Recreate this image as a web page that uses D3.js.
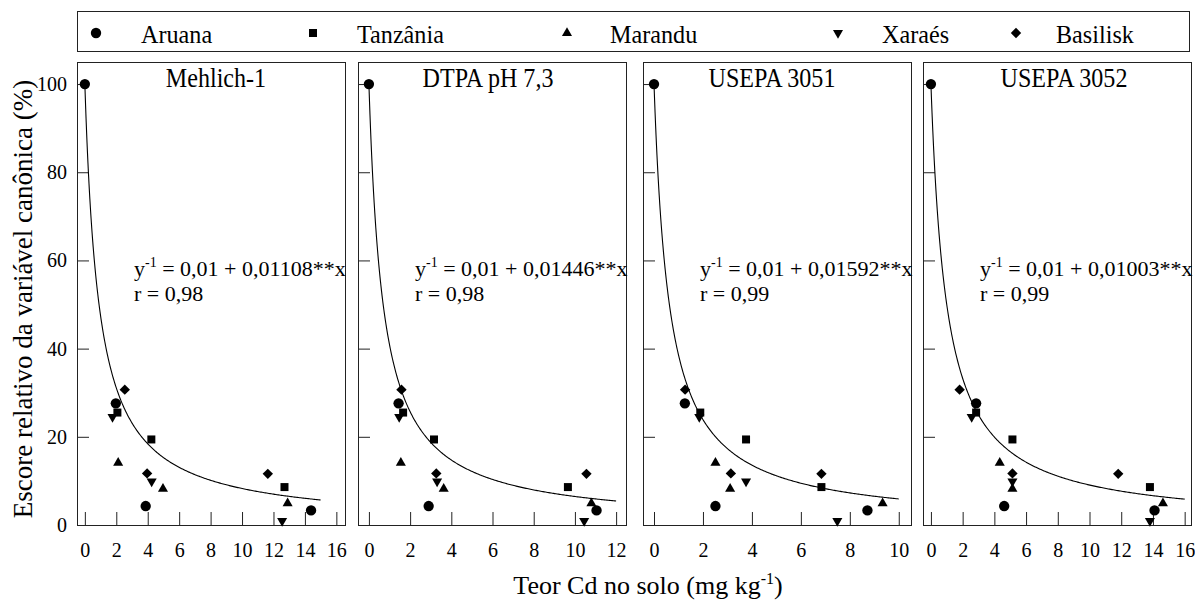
<!DOCTYPE html>
<html lang="pt">
<head>
  <meta charset="UTF-8">
  <title>Escore relativo x teor de Cd</title>
  <style>
    body { margin: 0; background: #fff; }
    svg text { font-family: "Liberation Serif", "Times New Roman", serif; fill: #000; }
  </style>
</head>
<body>
  <svg id="svg" width="1195" height="601" font-family="'Liberation Serif', serif"></svg>
  <script src="https://d3js.org/d3.v7.min.js"></script>
  <script>
    // data
    const cultivars = ['Aruana', 'Tanzânia', 'Marandu', 'Xaraés', 'Basilisk']
    const methods = ['Mehlich-1', 'DTPA pH 7,3', 'USEPA 3051', 'USEPA 3052']
    const intercept = 0.01
    const slopes = [0.01108, 0.01446, 0.01592, 0.01003]
    const slopeLabels = ['0,01108', '0,01446', '0,01592', '0,01003']
    const rLabels = ['0,98', '0,98', '0,99', '0,99']
    const curveEnd = [15, 12, 10, 16]
    const xTickMax = [16, 12, 10, 16]
    const yTicks = [0, 20, 40, 60, 80, 100]

    // relative score (%) per cultivar, same in every panel
    const yAruana = [100, 27.6, 4.3, 3.3]
    const yTanzania = [25.5, 19.4, 8.6]
    const yMarandu = [14.1, 8.2, 4.9]
    const yXaraes = [24.5, 9.9, 0.9]
    const yBasilisk = [30.7, 11.7, 11.6]
    const yValues = [yAruana, yTanzania, yMarandu, yXaraes, yBasilisk]

    // Cd in soil (mg/kg) per method, rows follow cultivars
    const xMehlich = [[0, 1.97, 3.87, 14.39], [2.07, 4.23, 12.7], [2.12, 4.97, 12.9], [1.76, 4.25, 12.55], [2.54, 3.96, 11.64]]
    const xDtpa = [[0, 1.44, 2.9, 11.05], [1.66, 3.16, 9.66], [1.55, 3.63, 10.8], [1.47, 3.31, 10.45], [1.58, 3.27, 10.56]]
    const x3051 = [[0, 1.26, 2.51, 8.72], [1.89, 3.76, 6.84], [2.51, 3.11, 9.34], [1.85, 3.76, 7.49], [1.27, 3.14, 6.84]]
    const x3052 = [[0, 2.85, 4.62, 14.1], [2.85, 5.14, 13.81], [4.34, 5.14, 14.63], [2.57, 5.14, 13.81], [1.81, 5.14, 11.81]]
    const xValues = [xMehlich, xDtpa, x3051, x3052]

    // layout
    const panelLeft = [77, 358, 643, 923]
    const panelW = 268
    const plotTop = 62, plotBottom = 525
    const xDomains = [[-0.5, 16.55], [-0.53, 12.48], [-0.45, 10.5], [-0.5, 16.4]]
    const titleDx = [5, -4, -5, 7]
    const serif = '"Liberation Serif", "Times New Roman", serif'

    const svg = d3.select('#svg')

    const yScale = d3.scaleLinear().domain([0, 105]).range([plotBottom, plotTop])

    // marker shapes
    const symbols = [
      { type: d3.symbolCircle, size: 84, rot: 0 },
      { type: d3.symbolSquare, size: 64, rot: 0 },
      { type: d3.symbolTriangle, size: 44, rot: 0 },
      { type: d3.symbolTriangle, size: 44, rot: 180 },
      { type: d3.symbolSquare, size: 54, rot: 45 }
    ]
    const symPath = i => d3.symbol().type(symbols[i].type).size(symbols[i].size)()

    // legend
    const legendMarkX = [96, 313, 567, 838, 1016]
    const legendTextX = [141, 357, 610, 882, 1056]
    svg.append('rect')
      .attr('x', 77.5).attr('y', 11.5)
      .attr('width', 1112).attr('height', 40)
      .attr('fill', 'none').attr('stroke', '#222').attr('stroke-width', 1)

    cultivars.forEach((c, i) => {
      svg.append('path')
        .attr('d', symPath(i))
        .attr('transform', `translate(${legendMarkX[i]},33) rotate(${symbols[i].rot})`)
        .attr('fill', '#000')
      svg.append('text')
        .text(c)
        .attr('transform', `translate(${legendTextX[i]},43) scale(0.93,1)`)
        .style('font-family', serif)
        .style('font-size', '26px')
    })

    methods.forEach((m, p) => {
      const x0 = panelLeft[p]
      const xScale = d3.scaleLinear().domain(xDomains[p]).range([x0, x0 + panelW])
      const g = svg.append('g')

      // x axis, ticks pointing up into the panel
      const xAxis = d3.axisBottom(xScale)
        .tickValues(d3.range(0, xTickMax[p] + 1, 2))
        .tickSizeInner(-13).tickSizeOuter(0).tickPadding(18)
      const gx = g.append('g').attr('transform', `translate(0,${plotBottom})`).call(xAxis)
      gx.attr('font-family', null).attr('font-size', null)
      gx.select('.domain').remove()
      gx.selectAll('text').style('font-size', '20px').style('font-family', serif)
      gx.selectAll('line').attr('stroke', '#222')

      // y axis, labels only on the first panel
      const yAxis = d3.axisLeft(yScale)
        .tickValues(yTicks)
        .tickSizeInner(-12).tickSizeOuter(0).tickPadding(10)
      if (p > 0) yAxis.tickFormat('')
      const gy = g.append('g').attr('transform', `translate(${x0},0)`).call(yAxis)
      gy.attr('font-family', null).attr('font-size', null)
      gy.select('.domain').remove()
      gy.selectAll('text').style('font-size', '20px').style('font-family', serif)
      gy.selectAll('line').attr('stroke', '#222')

      // panel frame
      g.append('rect')
        .attr('x', x0 + 0.5).attr('y', plotTop + 0.5)
        .attr('width', panelW).attr('height', plotBottom - plotTop)
        .attr('fill', 'none').attr('stroke', '#222').attr('stroke-width', 1)

      // fitted curve y^-1 = a + b x
      const xs = d3.range(0, 301).map(k => curveEnd[p] * Math.pow(k / 300, 1.6))
      g.append('path')
        .attr('d', d3.line()
          .x(d => xScale(d))
          .y(d => yScale(1 / (intercept + slopes[p] * d)))(xs))
        .attr('fill', 'none').attr('stroke', '#000').attr('stroke-width', 1.1)

      // points
      cultivars.forEach((c, i) => {
        const pts = xValues[p][i].map((xv, k) => [xv, yValues[i][k]])
        g.selectAll(null)
          .data(pts)
          .enter()
          .append('path')
          .attr('d', symPath(i))
          .attr('transform', d => `translate(${xScale(d[0])},${yScale(d[1])}) rotate(${symbols[i].rot})`)
          .attr('fill', '#000')
      })

      // title
      g.append('text')
        .text(m)
        .attr('text-anchor', 'middle')
        .attr('transform', `translate(${x0 + panelW / 2 + titleDx[p]},87) scale(0.86,1)`)
        .style('font-family', serif)
        .style('font-size', '28px')

      // equation
      const eq = g.append('text')
        .attr('x', x0 + 57).attr('y', 276)
        .style('font-family', serif)
        .style('font-size', '22px')
      eq.append('tspan').text('y')
      eq.append('tspan').text('-1').attr('dy', -9).style('font-size', '14px')
      eq.append('tspan').text(` = 0,01 + ${slopeLabels[p]}**x`).attr('dy', 9)
      g.append('text')
        .attr('x', x0 + 57).attr('y', 301)
        .style('font-family', serif)
        .style('font-size', '22px')
        .text(`r = ${rLabels[p]}`)
    })

    // axis titles
    const xt = svg.append('text')
      .attr('x', 648).attr('y', 594)
      .attr('text-anchor', 'middle')
      .style('font-family', serif)
      .style('font-size', '26px')
    xt.append('tspan').text('Teor Cd no solo (mg kg')
    xt.append('tspan').text('-1').attr('dy', -10).style('font-size', '16px')
    xt.append('tspan').text(')').attr('dy', 10)

    svg.append('text')
      .text('Escore relativo da variável canônica (%)')
      .attr('text-anchor', 'middle')
      .attr('transform', 'translate(32,299) rotate(-90)')
      .style('font-family', serif)
      .style('font-size', '27px')
  </script>
</body>
</html>
